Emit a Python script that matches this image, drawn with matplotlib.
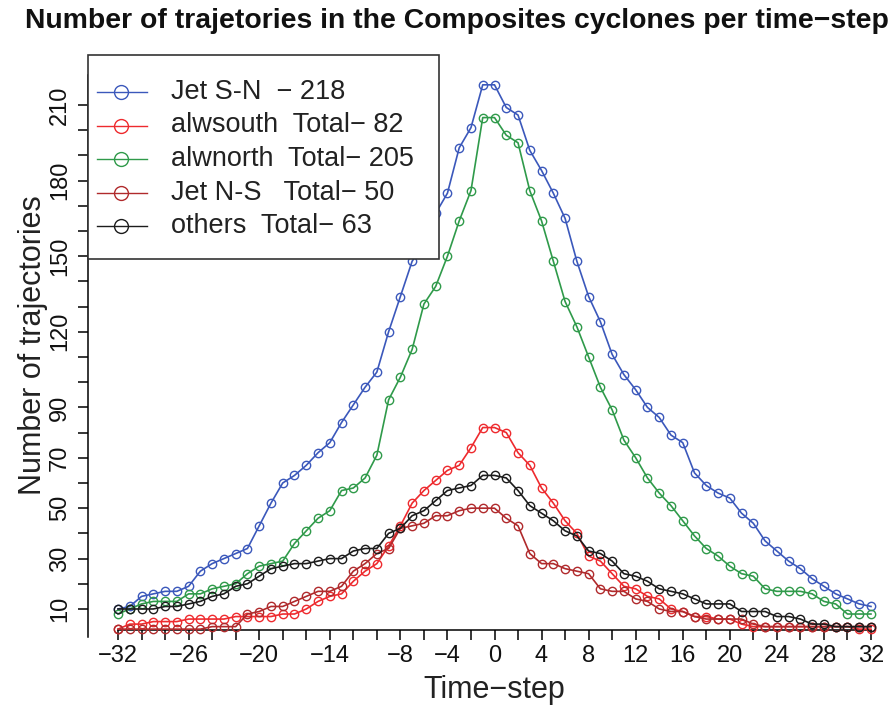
import matplotlib
matplotlib.use('Agg')
import matplotlib.pyplot as plt
from matplotlib.lines import Line2D
from matplotlib.patches import Rectangle

plt.rcParams['font.family'] = ['Liberation Sans', 'DejaVu Sans']

W, H = 896, 707

time_steps = list(range(-32, 33))

jet_sn = [10, 11, 15, 16, 17, 17, 19, 25, 28, 30,
          32, 34, 43, 52, 60, 63, 67, 72, 76, 84,
          91, 98, 104, 120, 134, 148, 155, 167, 175, 193,
          201, 218, 218, 209, 206, 192, 184, 175, 165, 148,
          134, 124, 111, 103, 97, 90, 86, 79, 76, 64,
          59, 56, 54, 48, 44, 37, 33, 29, 26, 22,
          19, 16, 14, 12, 11]
alwsouth = [2, 4, 4, 5, 5, 5, 6, 6, 6, 6,
            7, 7, 7, 7, 8, 8, 10, 13, 15, 16,
            21, 25, 28, 35, 43, 52, 57, 61, 65, 67,
            74, 82, 82, 80, 72, 67, 58, 52, 45, 40,
            31, 29, 24, 19, 18, 15, 14, 10, 9, 7,
            7, 6, 6, 4, 3, 3, 3, 3, 3, 3,
            3, 3, 3, 2, 2]
alwnorth = [8, 10, 12, 13, 13, 13, 16, 16, 18, 19,
            20, 24, 27, 28, 29, 36, 41, 46, 49, 57,
            58, 62, 71, 93, 102, 113, 131, 138, 150, 164,
            176, 205, 205, 198, 195, 176, 164, 148, 132, 122,
            110, 98, 89, 77, 70, 62, 56, 51, 45, 39,
            34, 31, 27, 24, 23, 18, 17, 17, 17, 16,
            13, 12, 8, 8, 8]
jet_ns = [2, 2, 2, 2, 2, 2, 2, 2, 3, 3,
          3, 8, 9, 11, 11, 13, 15, 17, 17, 19,
          25, 28, 32, 34, 42, 43, 44, 47, 47, 49,
          50, 50, 50, 46, 43, 32, 28, 28, 26, 25,
          24, 18, 17, 17, 14, 13, 10, 9, 9, 7,
          6, 6, 6, 6, 4, 3, 3, 3, 3, 3,
          3, 3, 3, 3, 3]
others = [10, 10, 10, 10, 11, 11, 12, 13, 15, 16,
          19, 20, 23, 26, 27, 28, 28, 29, 30, 30,
          33, 34, 34, 40, 42, 47, 49, 53, 57, 58,
          59, 63, 63, 62, 57, 51, 48, 45, 41, 39,
          33, 32, 29, 24, 23, 21, 18, 17, 16, 14,
          12, 12, 12, 9, 9, 9, 7, 7, 6, 4,
          4, 3, 3, 3, 3]

series = [jet_sn, alwsouth, alwnorth, jet_ns, others]
series_labels = ['Jet S-N  \u2212 218', 'alwsouth  Total\u2212 82',
                 'alwnorth  Total\u2212 205', 'Jet N-S   Total\u2212 50',
                 'others  Total\u2212 63']
series_colors = ['#3b58bb', '#ee2a2e', '#2f9a4a', '#b02a2c', '#1c1c1c']

x_ticks = list(range(-32, 33, 2))
x_labelled = [-32, -26, -20, -14, -8, -4, 0, 4, 8, 12, 16, 20, 24, 28, 32]
y_ticks = list(range(10, 211, 10))
y_labelled = [10, 30, 50, 70, 90, 120, 150, 180, 210]


def fx(px):
    return px / W


def fy(py):
    return 1 - py / H


fig = plt.figure(figsize=(W / 100, H / 100), dpi=100)
# plot area: x=-32 at 118px, x=32 at 871px; y=10 at 609px, 2.52 px per unit
ax = fig.add_axes([fx(87.9), fy(636.7), 813.2 / W, 579.6 / H])
ax.set_xlim(-34.56, 34.56)
ax.set_ylim(-1, 229)

# dotted grid every 10 on x and every 50 on y
ax.set_xticks(range(-30, 31, 10), minor=True)
ax.set_yticks([50, 100, 150, 200], minor=True)
ax.grid(True, which='minor', color='#cfcfcf', linestyle=(0, (1, 2.5)), linewidth=1)
ax.tick_params(which='minor', length=0)

for vals, col in zip(series, series_colors):
    ax.plot(time_steps, vals, color=col, lw=1.2, marker='o', ms=6,
            mfc='none', mec=col, mew=1.0, zorder=3)


def fmt(v):
    return str(v).replace('-', '\u2212')


ax.set_xticks(x_ticks)
ax.set_xticklabels([fmt(v) if v in x_labelled else '' for v in x_ticks])
ax.set_yticks(y_ticks)
ax.set_yticklabels([fmt(v) if v in y_labelled else '' for v in y_ticks],
                   rotation=90, va='center')
ax.tick_params(axis='both', which='major', direction='out', length=7,
               width=1.1, labelsize=17, color='black', labelcolor='#111111')
ax.tick_params(axis='x', pad=4)
ax.tick_params(axis='y', pad=5)

for s in ['top', 'right']:
    ax.spines[s].set_visible(False)
ax.spines['bottom'].set_position(('data', 1.667))
ax.spines['bottom'].set_bounds(-32, 32)
ax.spines['left'].set_bounds(-1, 222)
for s in ['bottom', 'left']:
    ax.spines[s].set_linewidth(1.1)

fig.text(fx(457), fy(21), 'Number of trajetories in the Composites cyclones per time\u2212step',
         ha='center', va='center', fontsize=20.4, fontweight='bold', color='#111111')
fig.text(fx(494), fy(690), 'Time\u2212step', ha='center', va='center',
         fontsize=22, color='#222222')
fig.text(fx(33), fy(345), 'Number of trajectories', ha='center', va='center',
         rotation=90, fontsize=22, color='#222222')

# legend box
fig.add_artist(Rectangle((fx(88), fy(259)), (439 - 88) / W, (259 - 55) / H,
                         transform=fig.transFigure, facecolor='white',
                         edgecolor='#333333', lw=1.2, zorder=5))
for i, (lab, col) in enumerate(zip(series_labels, series_colors)):
    yy = fy(92 + i * 33.5)
    fig.add_artist(Line2D([fx(97), fx(147)], [yy, yy], color=col, lw=1.0,
                          transform=fig.transFigure, zorder=6))
    fig.add_artist(Line2D([fx(121)], [yy], marker='o', ms=10, mfc='none',
                          mec=col, mew=1.0, transform=fig.transFigure, zorder=6))
    fig.text(fx(171), yy, lab, ha='left', va='center', fontsize=19.5,
             color='#222222', zorder=7)

fig.savefig('out.png', dpi=100)
